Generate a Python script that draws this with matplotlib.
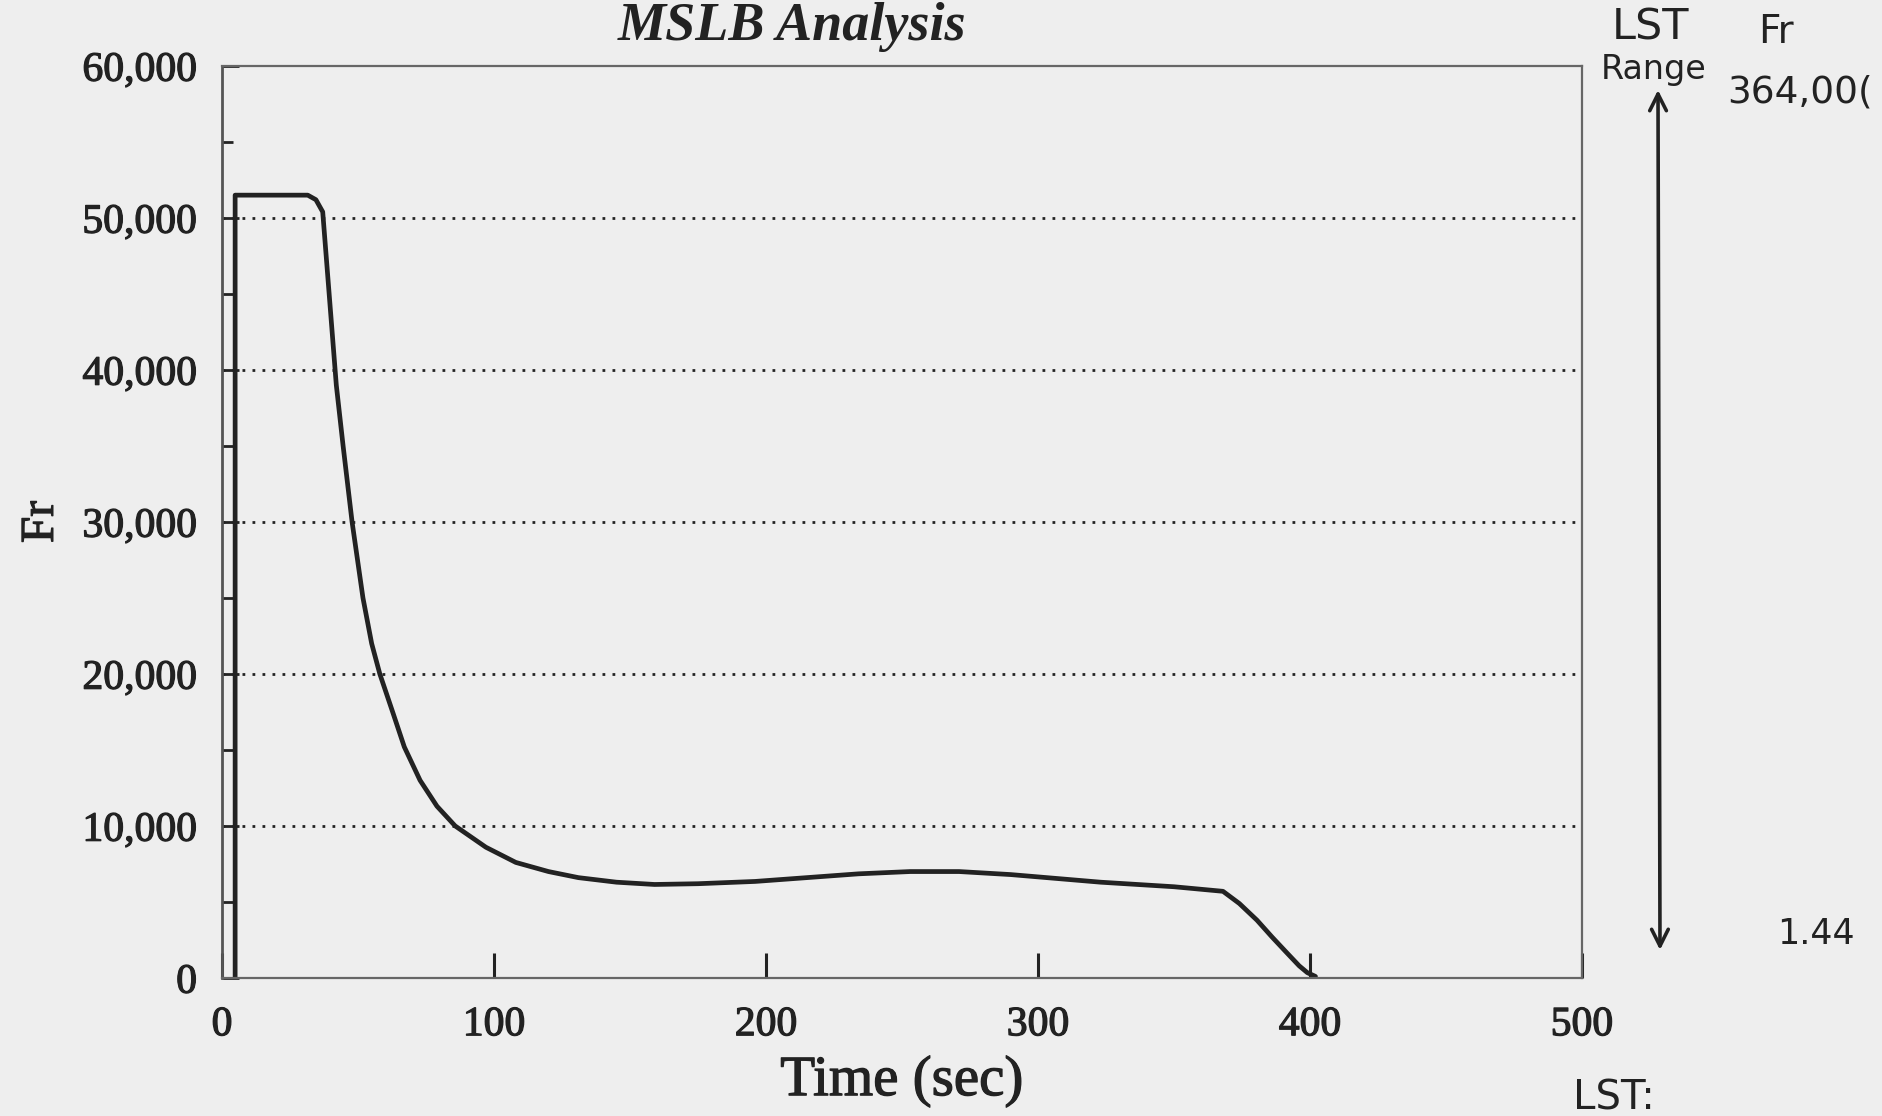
import matplotlib.pyplot as plt
import matplotlib.patheffects as pe
from matplotlib.ticker import MultipleLocator, FuncFormatter

# Values
time_s = [4.8, 4.8, 31.5, 34.5, 37, 42, 44.5, 47.8, 51.8, 55, 58, 62.9, 67,
          72.8, 79, 85.7, 97, 108, 120, 131, 145, 159, 175, 196, 215, 234,
          253, 271, 290, 323, 350, 368, 374, 380.5, 386, 391.5, 396, 399, 402]
fr = [0, 51500, 51500, 51200, 50400, 39000, 35000, 30000, 25000, 22000, 20000,
      17400, 15200, 13000, 11300, 10000, 8600, 7600, 7000, 6600, 6300, 6150,
      6200, 6350, 6600, 6850, 7000, 7000, 6800, 6300, 6000, 5700, 4900, 3800,
      2700, 1650, 800, 350, 100]

x_ticks = [0, 100, 200, 300, 400, 500]
y_ticks = [0, 10000, 20000, 30000, 40000, 50000, 60000]

paper = '#eeeeee'
ink = '#222222'
serif = 'Liberation Serif'
hand = 'DejaVu Sans'
thick = [pe.withStroke(linewidth=0.9, foreground=ink)]

fig = plt.figure(figsize=(18.82, 11.16), dpi=100, facecolor=paper)
ax = fig.add_axes([0.118, 0.1237, 0.7226, 0.8172])
ax.set_facecolor(paper)

ax.plot(time_s, fr, color=ink, linewidth=3.4, solid_joinstyle='round',
        solid_capstyle='round')

ax.set_xlim(0, 500)
ax.set_ylim(0, 60000)
ax.set_xticks(x_ticks)
ax.set_yticks(y_ticks)
ax.yaxis.set_minor_locator(MultipleLocator(5000))
ax.yaxis.set_major_formatter(FuncFormatter(lambda v, p: f'{int(v):,}'))

# dotted grid at the major levels
for v in y_ticks[1:-1]:
    ax.axhline(v, color=ink, linewidth=2, linestyle=(0, (1, 2.6)))

for side in ['top', 'right', 'bottom']:
    ax.spines[side].set_linestyle((0, (1, 1)))
    ax.spines[side].set_color('#666666')
    ax.spines[side].set_linewidth(1.6)
ax.spines['left'].set_color('#555555')
ax.spines['left'].set_linewidth(2)

ax.tick_params(axis='y', which='major', direction='in', length=12, width=2,
               color=ink, labelsize=30, pad=18, labelcolor=ink)
ax.tick_params(axis='y', which='minor', direction='in', length=8, width=2,
               color=ink)
ax.tick_params(axis='x', direction='in', length=18, width=2.2, color=ink,
               labelsize=30, pad=20, labelcolor=ink)
for lab in ax.get_xticklabels() + ax.get_yticklabels():
    lab.set_fontfamily(serif)
    lab.set_path_effects(thick)

ax.set_xlabel('Time (sec)', fontsize=41, family=serif, color=ink, labelpad=8,
              path_effects=thick)
ax.set_ylabel('Fr', fontsize=34, family=serif, color=ink, labelpad=14,
              path_effects=thick)

fig.text(0.4208, 1 - 40 / 1116, 'MSLB Analysis', ha='center', va='baseline',
         fontsize=39, family=serif, weight='bold', style='italic', color=ink)

# handwritten notes on the right
fig.text(1650 / 1882, 1 - 28 / 1116, 'LST', ha='center', va='center',
         fontsize=31, family=hand, color=ink)
fig.text(1776 / 1882, 1 - 32 / 1116, 'Fr', ha='center', va='center',
         fontsize=28, family=hand, color=ink)
fig.text(1654 / 1882, 1 - 70 / 1116, 'Range', ha='center', va='center',
         fontsize=24, family=hand, color=ink)
fig.text(1800 / 1882, 1 - 92 / 1116, '364,00(', ha='center', va='center',
         fontsize=27, family=hand, color=ink)
fig.text(1816 / 1882, 1 - 934 / 1116, '1.44', ha='center', va='center',
         fontsize=25, family=hand, color=ink)
fig.text(1614 / 1882, 1 - 1098 / 1116, 'LST:', ha='center', va='center',
         fontsize=29, family=hand, color=ink)
fig.add_artist(plt.Annotation(
    '', xy=(1660 / 1882, 1 - 950 / 1116), xytext=(1658 / 1882, 1 - 90 / 1116),
    xycoords='figure fraction', textcoords='figure fraction',
    arrowprops=dict(arrowstyle='<->,head_length=1.2,head_width=0.6',
                    color=ink, linewidth=2.6, shrinkA=0, shrinkB=0)))

fig.savefig('out.png', dpi=100, facecolor=paper)
